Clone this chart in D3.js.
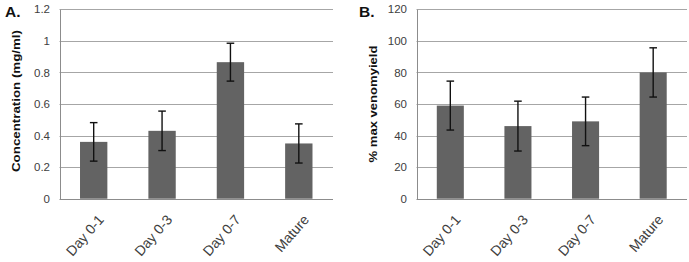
<!DOCTYPE html>
<html>
<head>
<meta charset="utf-8">
<script src="https://cdn.jsdelivr.net/npm/d3@7"></script>
<style>
  body { margin: 0; background: #fff; }
  svg { display: block; font-family: "Liberation Sans", Arial, sans-serif; }
</style>
</head>
<body>
<svg id="chart" width="689" height="262"></svg>
<script>
// groups on the x axis (same for both panels)
const groups = ["Day 0-1", "Day 0-3", "Day 0-7", "Mature"];

// panel A: venom concentration (mg/ml)
const concMean = [0.36, 0.43, 0.865, 0.35];
const concErr = [0.122, 0.125, 0.12, 0.124];
const concTicks = [0, 0.2, 0.4, 0.6, 0.8, 1, 1.2];

// panel B: % of max venom yield
const yieldMean = [59, 46, 49, 80];
const yieldErr = [15.5, 15.8, 15.4, 15.6];
const yieldTicks = [0, 20, 40, 60, 80, 100, 120];

const svg = d3.select("#chart");

//draw one bar panel with error bars
function drawPanel(opt) {
  const x = d3.scaleBand()
    .domain(groups)
    .range([opt.left, opt.right])
    .paddingInner(0.6)
    .paddingOuter(0.3);

  const y = d3.scaleLinear()
    .domain([0, opt.ticks[opt.ticks.length - 1]])
    .range([198.7, 9.3]);

  const g = svg.append("g");

  // gridlines
  g.selectAll("line.grid")
    .data(opt.ticks.slice(1))
    .join("line")
    .attr("class", "grid")
    .attr("x1", opt.left)
    .attr("x2", opt.right)
    .attr("y1", d => Math.round(y(d)) + 0.5)
    .attr("y2", d => Math.round(y(d)) + 0.5)
    .attr("stroke", "#a6a6a6")
    .attr("stroke-width", 1);

  // y axis, drawn by d3 then restyled like the spreadsheet look
  const yAxis = g.append("g")
    .attr("transform", `translate(${opt.left + 0.5},0)`)
    .call(d3.axisLeft(y).tickValues(opt.ticks).tickSize(0).tickPadding(10)
      .tickFormat(d => String(d)));
  yAxis.select(".domain").attr("stroke", "#8c8c8c");
  yAxis.selectAll("text")
    .attr("font-size", "11.5px")
    .attr("fill", "#404040")
    .attr("font-family", "Liberation Sans, Arial, sans-serif");

  // x axis line
  g.append("line")
    .attr("x1", opt.left)
    .attr("x2", opt.right)
    .attr("y1", Math.round(y(0)) + 0.5)
    .attr("y2", Math.round(y(0)) + 0.5)
    .attr("stroke", "#8c8c8c");

  // bars
  g.selectAll("rect.bar")
    .data(opt.mean)
    .join("rect")
    .attr("class", "bar")
    .attr("x", (d, i) => x(groups[i]))
    .attr("width", x.bandwidth())
    .attr("y", d => y(d))
    .attr("height", d => y(0) - y(d))
    .attr("fill", "#636363");

  // error bars
  const eb = g.selectAll("g.err")
    .data(opt.mean)
    .join("g")
    .attr("class", "err")
    .attr("stroke", "#111")
    .attr("stroke-width", 1.4);

  const cx = i => x(groups[i]) + x.bandwidth() / 2;

  eb.append("line")
    .attr("x1", (d, i) => cx(i))
    .attr("x2", (d, i) => cx(i))
    .attr("y1", (d, i) => y(d + opt.err[i]))
    .attr("y2", (d, i) => y(d - opt.err[i]));

  eb.append("line")
    .attr("x1", (d, i) => cx(i) - 3.8)
    .attr("x2", (d, i) => cx(i) + 3.8)
    .attr("y1", (d, i) => y(d + opt.err[i]))
    .attr("y2", (d, i) => y(d + opt.err[i]));

  eb.append("line")
    .attr("x1", (d, i) => cx(i) - 3.8)
    .attr("x2", (d, i) => cx(i) + 3.8)
    .attr("y1", (d, i) => y(d - opt.err[i]))
    .attr("y2", (d, i) => y(d - opt.err[i]));

  // rotated category labels
  g.selectAll("text.cat")
    .data(groups)
    .join("text")
    .attr("class", "cat")
    .attr("transform", d => `translate(${x(d) + x.bandwidth() / 2 + 11},${220}) rotate(-49)`)
    .attr("text-anchor", "end")
    .attr("font-size", "14px")
    .attr("fill", "#404040")
    .text(d => d);

  // y axis title
  g.append("text")
    .attr("transform", `translate(${opt.titleX},${opt.titleY}) rotate(-90)`)
    .attr("text-anchor", "middle")
    .attr("font-size", "11px")
    .attr("font-weight", "bold")
    .attr("fill", "#111")
    .attr("textLength", opt.titleLen)
    .attr("lengthAdjust", "spacingAndGlyphs")
    .text(opt.title);

  // panel letter
  g.append("text")
    .attr("x", opt.letterX)
    .attr("y", 17)
    .attr("font-size", "15.5px")
    .attr("font-weight", "bold")
    .attr("fill", "#111")
    .text(opt.letter);
}

drawPanel({
  left: 59.5, right: 333,
  mean: concMean, err: concErr, ticks: concTicks,
  title: "Concentration (mg/ml)", titleX: 20, titleY: 101, titleLen: 142,
  letter: "A.", letterX: 5
});

drawPanel({
  left: 416.5, right: 687,
  mean: yieldMean, err: yieldErr, ticks: yieldTicks,
  title: "% max venomyield", titleX: 377, titleY: 104, titleLen: 117,
  letter: "B.", letterX: 359
});
</script>
</body>
</html>
